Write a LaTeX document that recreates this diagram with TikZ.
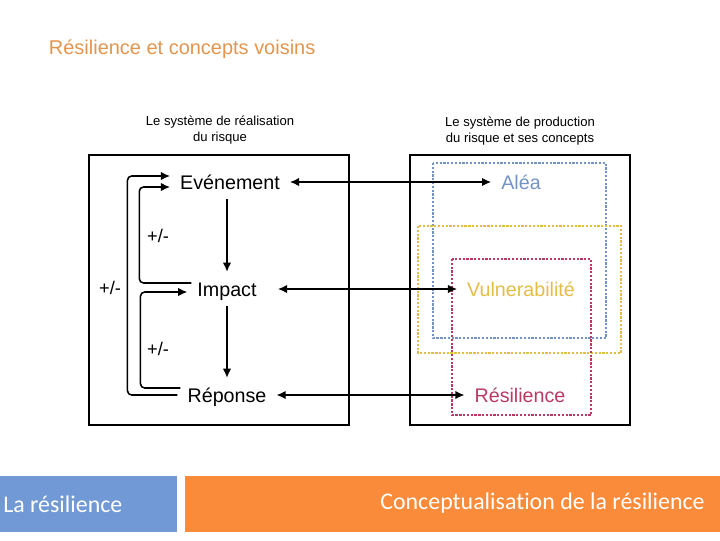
\documentclass[tikz,border=0pt]{standalone}
\usepackage{fontspec}
\setmainfont{Liberation Sans}
\newfontfamily\barfont[Ligatures=NoCommon]{Carlito}
\usetikzlibrary{arrows.meta, positioning, calc}

\definecolor{titleorange}{HTML}{E3954F}
\definecolor{barblue}{HTML}{7199D6}
\definecolor{barorange}{HTML}{F98B3A}
\definecolor{aleablue}{HTML}{7393C6}
\definecolor{vulnyellow}{HTML}{E5BC45}
\definecolor{resired}{HTML}{B83A62}

\begin{document}
\begin{tikzpicture}[x=0.025cm, y=-0.025cm,
    frame/.style={rectangle, draw, line width=1.2pt, minimum height=6.75cm},
    item/.style={font=\fontsize{14}{16}\selectfont, inner sep=7pt, text height=10pt, text depth=0pt},
    caption/.style={font=\fontsize{9.3}{12}\selectfont, align=center},
    sign/.style={font=\fontsize{13}{15}\selectfont},
    concept/.style={line width=1pt, dash pattern=on 1.6pt off 1.1pt},
    arrow/.style={->, line width=1.1pt, >={Latex[length=6.5pt,width=6pt]}}
]
    \useasboundingbox (0,0) rectangle (720,540);

    % Title
    \node[font=\fontsize{14.2}{16}\selectfont, text=titleorange, anchor=base west] (title) at (44,54) {Résilience et concepts voisins};

    % The two systems
    \node[frame, minimum width=6.5cm] (sysleft) at (219,290) {};
    \node[frame, minimum width=5.5cm] (sysright) at (520,290) {};
    \node[caption] (capleft) at (220,130) {Le système de réalisation\\du risque};
    \node[caption] (capright) at (520,131) {Le système de production\\du risque et ses concepts};

    % Dotted concept zones
    \draw[concept, aleablue] (433,163) rectangle (606,338);
    \draw[concept, vulnyellow] (418,226) rectangle (621,353);
    \draw[concept, resired] (452,259) rectangle (591,415);

    % Realisation chain
    \node[item] (even) at (230,182) {Evénement};
    \node[item] (impact) at (227,289) {Impact};
    \node[item] (rep) at (227,395) {Réponse};

    % Concepts
    \node[item, text=aleablue] (alea) at (521,182) {Aléa};
    \node[item, text=vulnyellow] (vuln) at (521,289) {Vulnerabilité};
    \node[item, text=resired] (resil) at (520,395) {Résilience};

    % Down the chain
    \draw[arrow] (impact.north |- even.south) -- (impact.north);
    \draw[arrow] (impact.south) -- (rep.north);

    % Feedback loops
    \draw[arrow, rounded corners=3pt] (rep.west) -- ++(-50,0) |- ($(even.west)+(0,-6)$);
    \draw[arrow, rounded corners=3pt] ($(impact.west)+(4,-6)$) -- ++(-52,0) |- ($(even.west)+(0,5)$);
    \draw[arrow, rounded corners=3pt] ($(rep.west)+(3,-7)$) -- ++(-40,0) |- ($(impact.west)+(0,3)$);
    \node[sign] (signa) at (158,236) {+/-};
    \node[sign] (signb) at (158,349) {+/-};
    \node[sign] (signc) at (110,288) {+/-};

    % Links between the systems
    \draw[arrow, <->] (even) -- (alea);
    \draw[arrow, <->, shorten <=8pt] (impact) -- (vuln);
    \draw[arrow, <->] (rep) -- (resil);

    % Footer bars
    \fill[barblue] (0,476) rectangle (177,532);
    \fill[barorange] (185,476) rectangle (720,532);
    \node[font=\barfont\fontsize{17}{19}\selectfont, text=white, anchor=west, inner sep=0pt] (footleft) at (3,504) {La résilience};
    \node[font=\barfont\fontsize{17}{19}\selectfont, text=white, anchor=east, inner sep=0pt] (footright) at (705,503) {Conceptualisation de la résilience};
\end{tikzpicture}
\end{document}
